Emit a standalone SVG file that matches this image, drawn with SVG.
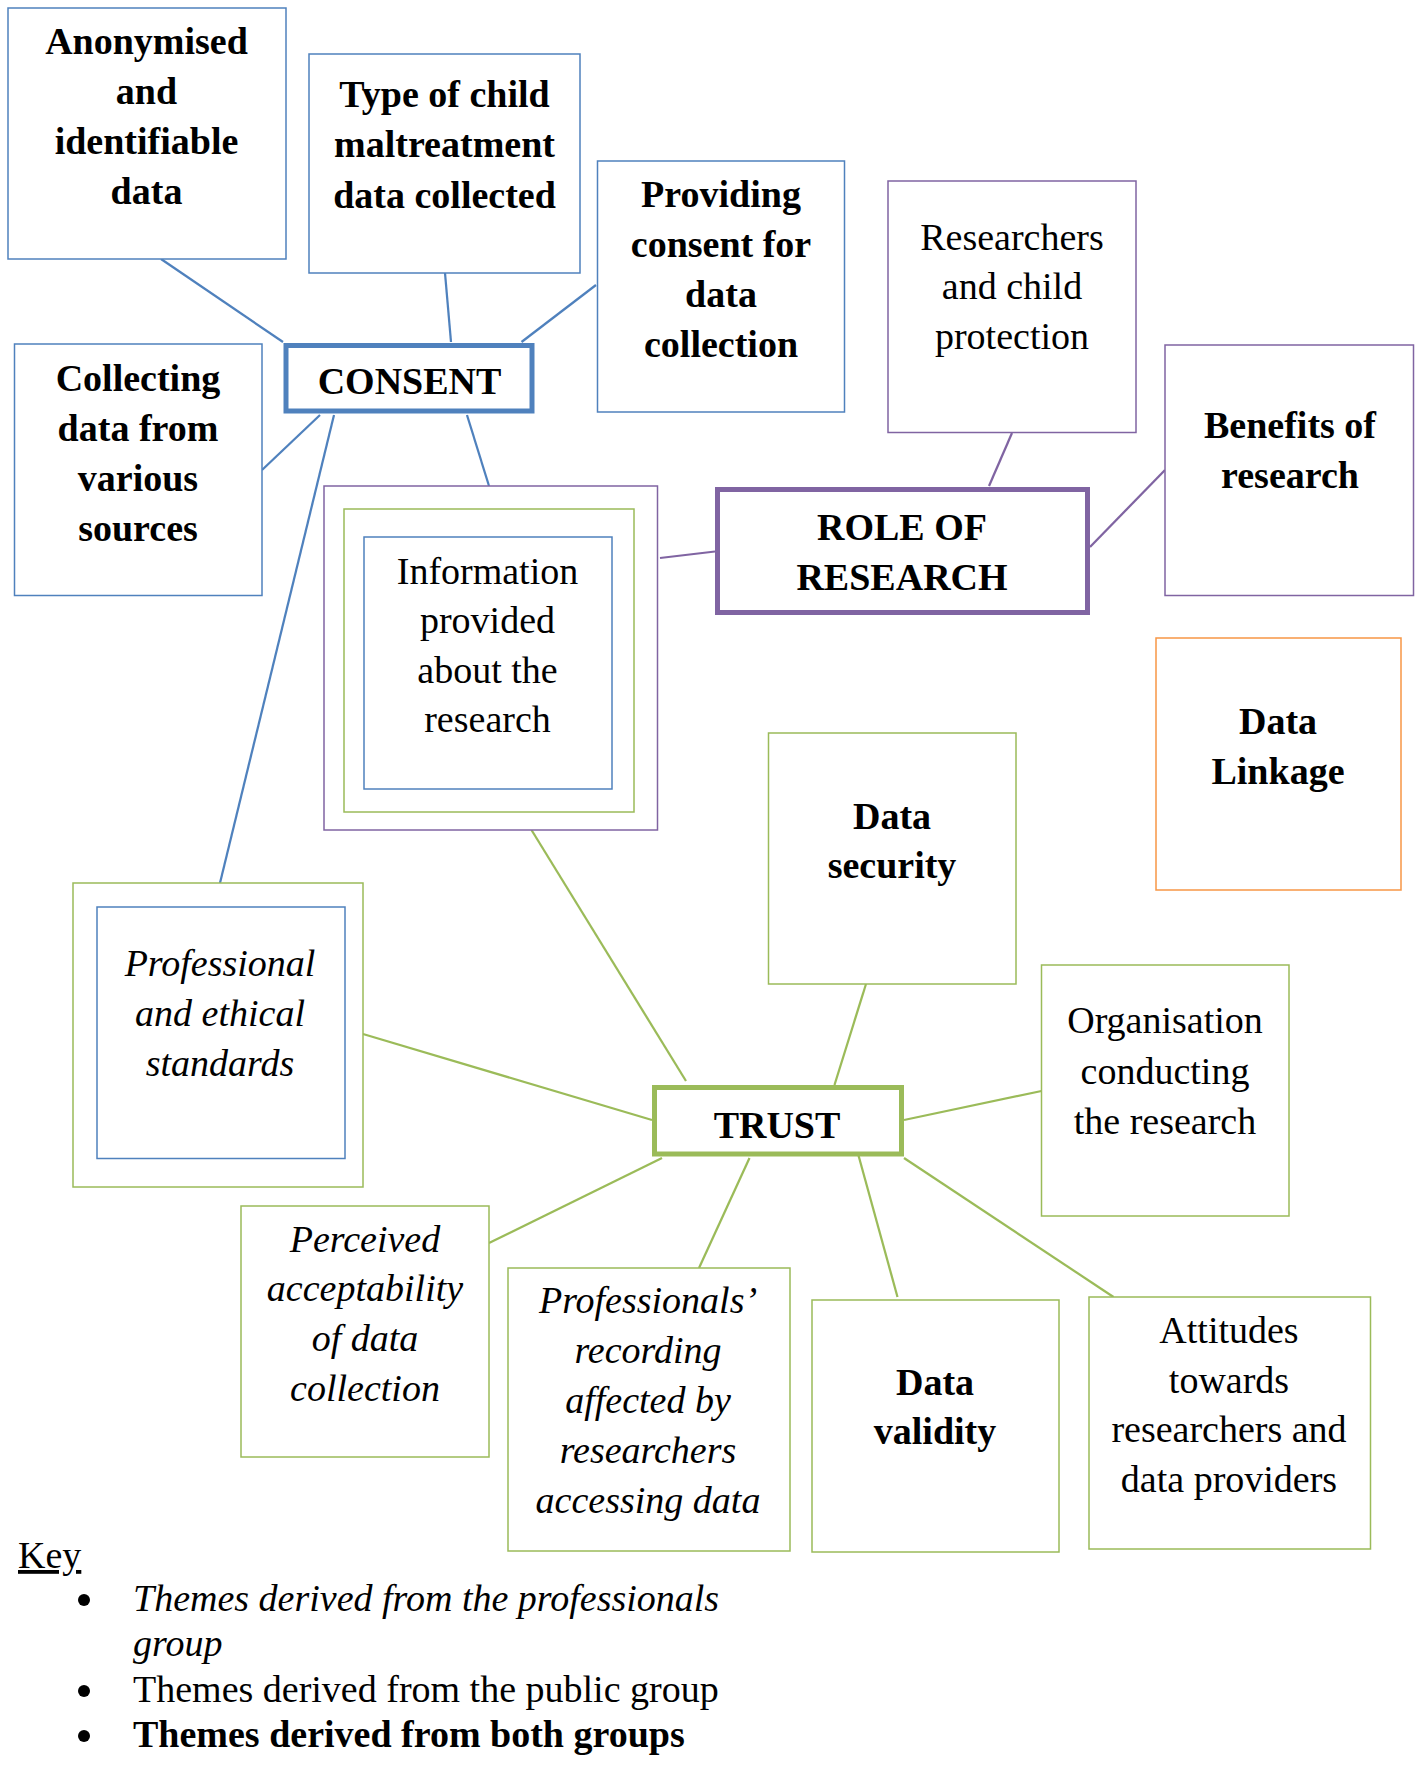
<svg xmlns="http://www.w3.org/2000/svg" width="1422" height="1765" viewBox="0 0 1422 1765">
<style>
text{font-family:"Liberation Serif","Times New Roman",serif;font-size:38px;fill:#000;text-anchor:middle}
.b{font-weight:bold}
.i{font-style:italic}
.box{fill:#fff;stroke-width:1.5}
.bl{stroke:#4F81BD}
.pu{stroke:#8064A2}
.gr{stroke:#9BBB59}
.or{stroke:#F79646}
.hub{fill:#fff;stroke-width:5}
.con line{stroke-width:2.25}
.lg{text-anchor:start}
</style>
<rect width="1422" height="1765" fill="#fff"/>
<g id="connectors" class="con">
<line class="bl" x1="161" y1="259" x2="283" y2="342"/>
<line class="bl" x1="445" y1="273" x2="451" y2="342"/>
<line class="bl" x1="596" y1="285" x2="521.5" y2="342"/>
<line class="bl" x1="262" y1="470" x2="320" y2="415"/>
<line class="bl" x1="334" y1="415" x2="220" y2="883"/>
<line class="bl" x1="467" y1="415" x2="489" y2="486"/>
<line class="pu" x1="1012" y1="433" x2="989" y2="486"/>
<line class="pu" x1="1090" y1="547" x2="1165" y2="470"/>
<line class="pu" x1="660" y1="558" x2="715" y2="551.5"/>
<line class="gr" x1="531.5" y1="830" x2="686" y2="1081"/>
<line class="gr" x1="363" y1="1034" x2="652" y2="1120"/>
<line class="gr" x1="866" y1="984" x2="834.5" y2="1085"/>
<line class="gr" x1="904" y1="1120" x2="1041.5" y2="1091"/>
<line class="gr" x1="662" y1="1158" x2="489" y2="1243"/>
<line class="gr" x1="749.5" y1="1158" x2="699" y2="1268"/>
<line class="gr" x1="857" y1="1150" x2="897.5" y2="1297"/>
<line class="gr" x1="904" y1="1158" x2="1113.5" y2="1297"/>
</g>
<g id="anonymised">
<rect class="box bl" x="8" y="8" width="278" height="251"/>
<text class="b" x="146.5" y="54">Anonymised</text>
<text class="b" x="146.5" y="104">and</text>
<text class="b" x="146.5" y="154">identifiable</text>
<text class="b" x="146.5" y="204">data</text>
</g>
<g id="type-of-child">
<rect class="box bl" x="309" y="54" width="271" height="219"/>
<text class="b" x="444.5" y="107">Type of child</text>
<text class="b" x="444.5" y="157">maltreatment</text>
<text class="b" x="444.5" y="208">data collected</text>
</g>
<g id="providing-consent">
<rect class="box bl" x="597.5" y="161" width="247" height="251"/>
<text class="b" x="721" y="207">Providing</text>
<text class="b" x="721" y="257">consent for</text>
<text class="b" x="721" y="307">data</text>
<text class="b" x="721" y="357">collection</text>
</g>
<g id="collecting">
<rect class="box bl" x="14.5" y="344" width="247.5" height="251.5"/>
<text class="b" x="138" y="391">Collecting</text>
<text class="b" x="138" y="441">data from</text>
<text class="b" x="138" y="491">various</text>
<text class="b" x="138" y="541">sources</text>
</g>
<g id="consent">
<rect class="hub bl" x="286" y="345.5" width="246" height="65.5"/>
<text class="b" x="409.5" y="394">CONSENT</text>
</g>
<g id="information">
<rect class="box pu" x="324" y="486" width="333.5" height="344"/>
<rect class="box gr" x="344" y="509" width="290" height="303"/>
<rect class="box bl" x="364" y="537" width="248" height="252"/>
<text x="487.5" y="584">Information</text>
<text x="487.5" y="633">provided</text>
<text x="487.5" y="683">about the</text>
<text x="487.5" y="732">research</text>
</g>
<g id="researchers-child-protection">
<rect class="box pu" x="888" y="181" width="248" height="251.5"/>
<text x="1012" y="250">Researchers</text>
<text x="1012" y="299">and child</text>
<text x="1012" y="349">protection</text>
</g>
<g id="role-of-research">
<rect class="hub pu" x="717.5" y="489.5" width="370" height="123"/>
<text class="b" x="902" y="540">ROLE OF</text>
<text class="b" x="902" y="590">RESEARCH</text>
</g>
<g id="benefits">
<rect class="box pu" x="1165" y="345" width="248.5" height="250.5"/>
<text class="b" x="1290" y="438">Benefits of</text>
<text class="b" x="1290" y="488">research</text>
</g>
<g id="data-linkage">
<rect class="box or" x="1156" y="638" width="245" height="252"/>
<text class="b" x="1278" y="734">Data</text>
<text class="b" x="1278" y="784">Linkage</text>
</g>
<g id="data-security">
<rect class="box gr" x="768.5" y="733" width="247.5" height="251"/>
<text class="b" x="892" y="829">Data</text>
<text class="b" x="892" y="878">security</text>
</g>
<g id="organisation">
<rect class="box gr" x="1041.5" y="965" width="247.5" height="251"/>
<text x="1165" y="1033">Organisation</text>
<text x="1165" y="1084">conducting</text>
<text x="1165" y="1134">the research</text>
</g>
<g id="professional-ethical">
<rect class="box gr" x="73" y="883" width="290" height="304"/>
<rect class="box bl" x="97" y="907" width="248" height="251.5"/>
<text class="i" x="220" y="976">Professional</text>
<text class="i" x="220" y="1026">and ethical</text>
<text class="i" x="220" y="1076">standards</text>
</g>
<g id="trust">
<rect class="hub gr" x="654.5" y="1087.5" width="247" height="66.5"/>
<text class="b" x="777" y="1138">TRUST</text>
</g>
<g id="perceived">
<rect class="box gr" x="241" y="1206" width="248" height="251"/>
<text class="i" x="365" y="1252">Perceived</text>
<text class="i" x="365" y="1301">acceptability</text>
<text class="i" x="365" y="1351">of data</text>
<text class="i" x="365" y="1401">collection</text>
</g>
<g id="professionals-recording">
<rect class="box gr" x="508" y="1268" width="282" height="283"/>
<text class="i" x="648" y="1313">Professionals’</text>
<text class="i" x="648" y="1363">recording</text>
<text class="i" x="648" y="1413">affected by</text>
<text class="i" x="648" y="1463">researchers</text>
<text class="i" x="648" y="1513">accessing data</text>
</g>
<g id="data-validity">
<rect class="box gr" x="812" y="1300" width="247" height="252"/>
<text class="b" x="935" y="1395">Data</text>
<text class="b" x="935" y="1444">validity</text>
</g>
<g id="attitudes">
<rect class="box gr" x="1089" y="1297" width="281.5" height="252"/>
<text x="1229" y="1343">Attitudes</text>
<text x="1229" y="1393">towards</text>
<text x="1229" y="1442">researchers and</text>
<text x="1229" y="1492">data providers</text>
</g>
<g id="key">
<text class="lg" x="18" y="1568" text-decoration="underline">Key</text>
<circle cx="84" cy="1600" r="6"/>
<text class="lg i" x="133" y="1611">Themes derived from the professionals</text>
<text class="lg i" x="133" y="1656">group</text>
<circle cx="84" cy="1691" r="6"/>
<text class="lg" x="133" y="1702">Themes derived from the public group</text>
<circle cx="84" cy="1736" r="6"/>
<text class="lg b" x="133" y="1747">Themes derived from both groups</text>
</g>
</svg>
